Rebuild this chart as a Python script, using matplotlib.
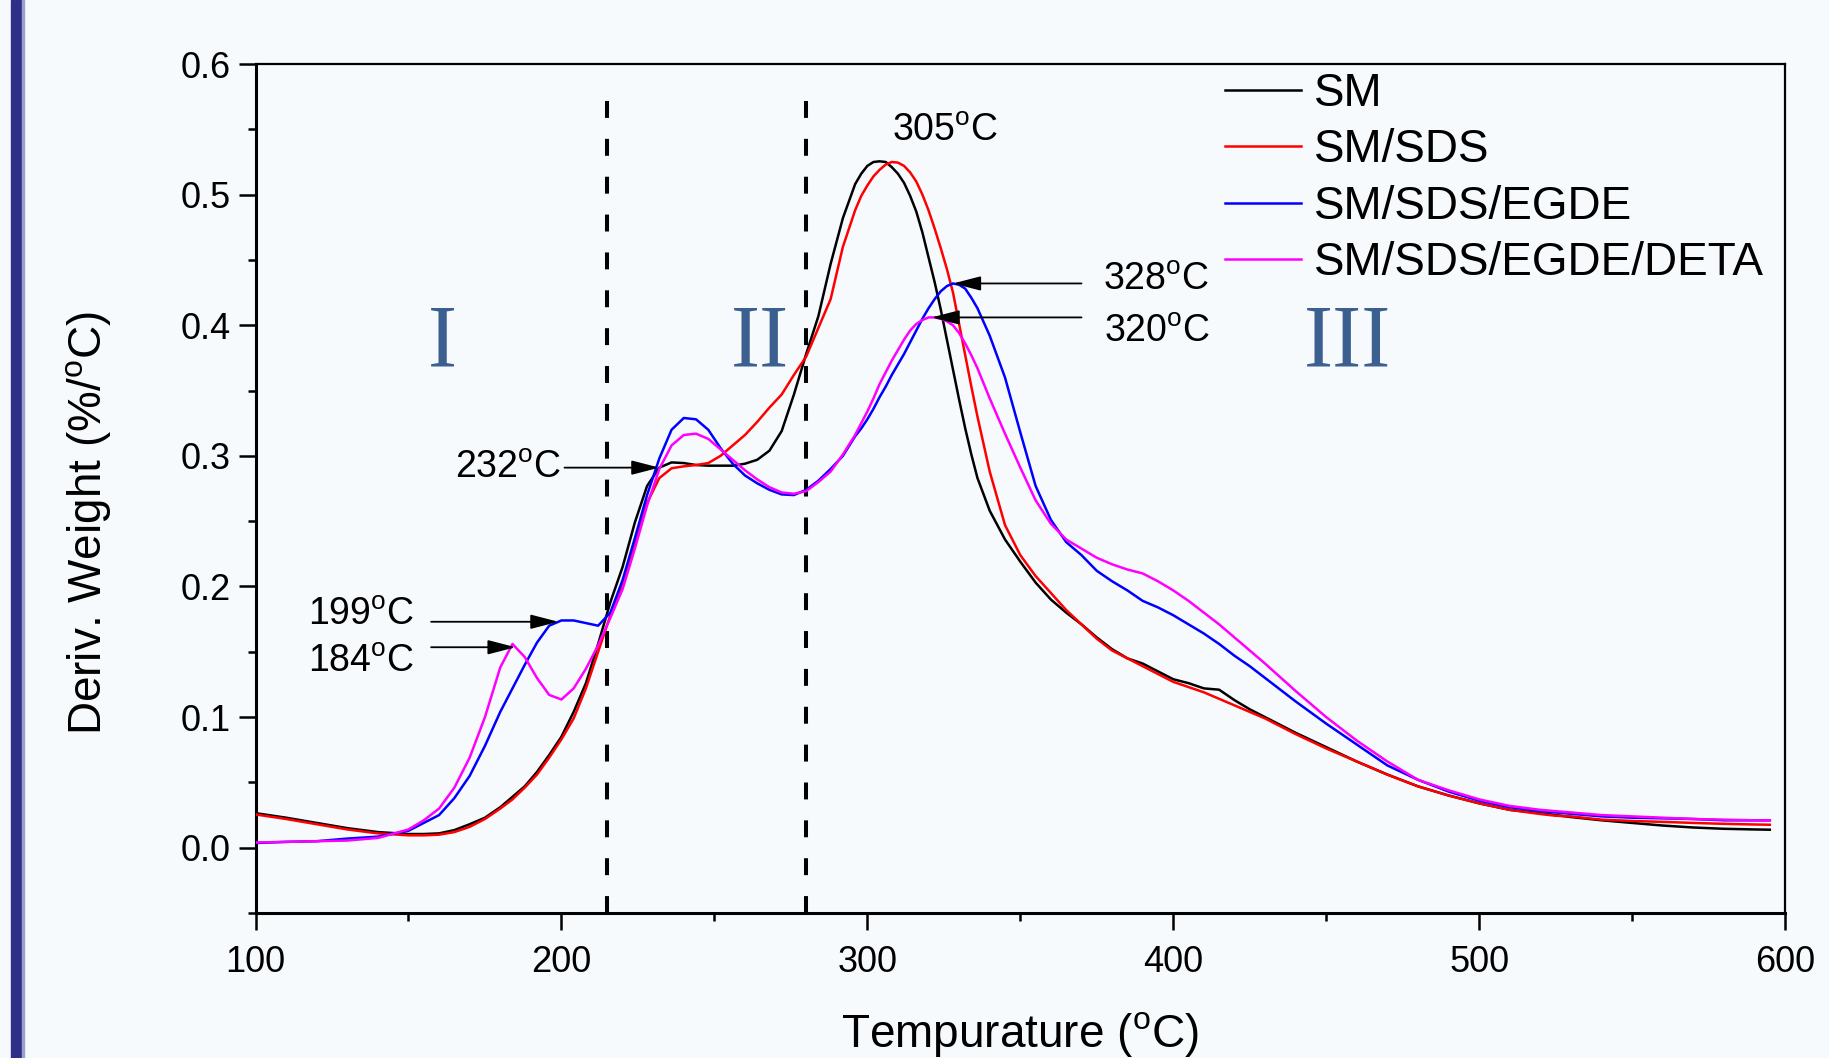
import numpy as np
import matplotlib
matplotlib.use("Agg")
from matplotlib import pyplot as plt
from matplotlib.patches import Rectangle
from matplotlib.ticker import MultipleLocator

plt.rcParams['font.family'] = ['Liberation Sans', 'DejaVu Sans']
plt.rcParams['mathtext.fontset'] = 'custom'
plt.rcParams['mathtext.rm'] = 'Liberation Sans'

# temperature grid (C) and DTG curves
temp = [100, 110, 120, 130, 140, 150, 155, 160, 165, 170, 175, 180,
        184, 188, 192, 196, 200, 204, 208, 212, 216, 220, 224, 228, 232, 236,
        240, 244, 248, 252, 256, 260, 264, 268, 272, 276, 280, 284, 288, 292,
        296, 298, 300, 302, 304, 306, 308, 310, 312, 314, 316, 318, 320, 322,
        324, 326, 328, 330, 332, 334, 336, 340,
        345, 350, 355, 360, 365, 370, 375, 380, 385, 390, 395, 400, 405, 410,
        415, 420, 425, 430, 440, 450, 460, 470, 480, 490, 500, 510, 520, 525,
        530, 540, 550, 560, 570, 580, 590, 595]

sm = [.0265, .023, .019, .015, .012, .0105, .0105, .011, .0135, .018, .023, .031,
      .039, .047, .058, .071, .085, .104, .126, .156, .188, .215, .249, .277, .291, .295,
      .2945, .293, .2925, .2925, .2925, .294, .297, .304, .319, .347, .378, .407, .447, .482,
      .508, .516, .522, .525, .5255, .525, .521, .516, .509, .499, .487, .471, .452, .433,
      .412, .389, .366, .343, .321, .301, .283, .258,
      .236, .219, .203, .190, .180, .171, .161, .152, .145, .141, .135, .129, .126, .122,
      .121, .113, .106, .100, .088, .077, .066, .056, .047, .040, .034, .029, .0265, .025,
      .0235, .021, .019, .017, .0155, .0145, .014, .0138]

sm_sds = [.0255, .022, .018, .014, .011, .0095, .0095, .010, .012, .016, .022, .030,
          .037, .046, .056, .069, .083, .099, .122, .150, .178, .200, .233, .264, .283, .2905,
          .292, .293, .2945, .300, .308, .316, .326, .337, .347, .362, .376, .398, .420, .460,
          .488, .499, .507, .514, .519, .523, .525, .5245, .522, .517, .510, .500, .488, .474,
          .459, .443, .425, .401, .377, .353, .330, .288,
          .247, .224, .208, .195, .182, .171, .160, .151, .145, .139, .133, .127, .123, .119,
          .114, .109, .104, .099, .087, .076, .066, .056, .047, .040, .034, .029, .0258, .0245,
          .024, .0215, .0205, .0198, .019, .0183, .0178, .0176]

sm_sds_egde = [.0036, .0045, .005, .007, .0085, .013, .019, .025, .038, .055, .078, .104,
               .122, .140, .157, .170, .174, .174, .172, .170, .180, .205, .237, .270, .298, .320,
               .329, .328, .320, .306, .294, .285, .279, .274, .2705, .270, .274, .281, .290, .300,
               .315, .321, .328, .336, .345, .353, .362, .370, .378, .387, .396, .405, .413, .420,
               .426, .430, .432, .431, .428, .421, .413, .392,
               .360, .318, .277, .251, .234, .224, .212, .204, .197, .189, .184, .178, .171, .164,
               .156, .147, .139, .130, .112, .095, .079, .063, .052, .043, .036, .031, .028, .027,
               .026, .024, .023, .0225, .022, .021, .021, .021]

sm_sds_egde_deta = [.004, .0045, .005, .0055, .0075, .014, .021, .030, .046, .069, .100, .138,
                    .156, .146, .130, .117, .1135, .122, .137, .155, .176, .198, .229, .262, .290, .308,
                    .316, .317, .313, .305, .297, .289, .282, .276, .272, .271, .273, .280, .288, .301,
                    .316, .325, .334, .344, .355, .364, .373, .381, .389, .396, .401, .404, .406, .406,
                    .405, .403, .400, .394, .386, .377, .367, .344,
                    .317, .291, .266, .248, .236, .229, .222, .217, .213, .210, .204, .197, .189, .180,
                    .171, .161, .151, .141, .120, .100, .082, .066, .052, .044, .037, .032, .029, .028,
                    .027, .025, .024, .023, .022, .0215, .021, .021]

labels = ['SM', 'SM/SDS', 'SM/SDS/EGDE', 'SM/SDS/EGDE/DETA']
colors = ['black', 'red', 'blue', 'magenta']

# region boundaries and stage names
stage_bounds = [215, 280]
stage_names = ['I', 'II', 'III']
stage_x = [161, 265, 457]

bg = '#f7fafd'
fig = plt.figure(figsize=(18.29, 10.58), dpi=100, facecolor=bg)
fig.patches.append(Rectangle((11 / 1829, 0), 12 / 1829, 1, transform=fig.transFigure,
                             color='#2e2f87', zorder=0))
fig.patches.append(Rectangle((22 / 1829, 0), 2 / 1829, 1, transform=fig.transFigure,
                             color='#9aa0d2', zorder=0))
ax = fig.add_axes([0.1397, 0.137, 0.8363, 0.8025])
ax.set_facecolor(bg)

series = [sm, sm_sds, sm_sds_egde, sm_sds_egde_deta]
for ys, lab, c in zip(series, labels, colors):
    ax.plot(temp, ys, color=c, lw=1.8, label=lab, zorder=3)

for b in stage_bounds:
    ax.plot([b, b], [-0.05, 0.575], color='black', lw=2.9, ls=(0, (4.2, 5.2)), zorder=2)

for name, sx in zip(stage_names, stage_x):
    ax.text(sx, 0.386, name, family='Liberation Serif', fontsize=63, color='#3b5f8f',
            ha='center', va='center')

ax.set_xlim(100, 600)
ax.set_ylim(-0.05, 0.6)
ax.xaxis.set_major_locator(MultipleLocator(100))
ax.xaxis.set_minor_locator(MultipleLocator(50))
ax.yaxis.set_minor_locator(MultipleLocator(0.05))
ax.set_yticks(np.arange(0, 0.61, 0.1))
ax.set_yticklabels([f'{v:.1f}' for v in np.arange(0, 0.61, 0.1)])
ax.tick_params(which='major', direction='out', length=12, width=1.8, labelsize=26, pad=6)
ax.tick_params(axis='x', which='major', pad=11)
ax.tick_params(which='minor', direction='out', length=6, width=1.8)
for s in ['left', 'bottom']:
    ax.spines[s].set_linewidth(2.2)
for s in ['top', 'right']:
    ax.spines[s].set_linewidth(1.6)

ax.set_xlabel(r'Tempurature ($^\mathrm{o}$C)', fontsize=33, va='center')
ax.set_ylabel(r'Deriv. Weight (%/$^\mathrm{o}$C)', fontsize=33, va='center')
ax.xaxis.set_label_coords(0.5, -0.1428)
ax.yaxis.set_label_coords(-0.109, 0.459)

arrow = dict(arrowstyle='-|>,head_length=0.85,head_width=0.22', color='black', lw=1.3,
             shrinkA=0, shrinkB=0, mutation_scale=20)


def peak(t, ys, text, start_x, text_dx, text_dy, side):
    y = float(np.interp(t, temp, ys))
    ax.annotate('', xy=(t, y), xytext=(start_x, y), arrowprops=arrow, zorder=4)
    if side == 'left':
        ax.text(start_x - text_dx, y + text_dy, text, fontsize=27, ha='right', va='center')
    else:
        ax.text(start_x + text_dx, y + text_dy, text, fontsize=27, ha='left', va='center')


deg = r'$^\mathrm{o}$C'
peak(232, sm, '232' + deg, 201, 1, 0.0, 'left')
peak(199, sm_sds_egde, '199' + deg, 157.4, 5.5, 0.005, 'left')
peak(185, sm_sds_egde_deta, '184' + deg, 157.4, 5.5, -0.011, 'left')
peak(328, sm_sds_egde, '328' + deg, 370, 7, 0.003, 'right')
peak(321, sm_sds_egde_deta, '320' + deg, 370, 7.5, -0.011, 'right')
ax.text(325.4, 0.549, '305' + deg, fontsize=27, ha='center', va='center')

ax.legend(loc='upper left', bbox_to_anchor=(0.6698, 0.932), bbox_transform=fig.transFigure,
          frameon=False, fontsize=33, handlelength=1.65, handletextpad=0.3,
          labelspacing=0.27, borderpad=0, borderaxespad=0)

fig.savefig('out.png', dpi=100, facecolor=bg)
